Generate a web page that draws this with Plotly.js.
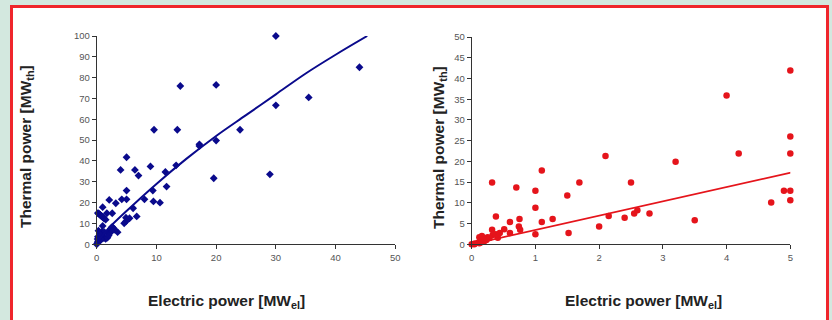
<!DOCTYPE html>
<html>
<head>
<meta charset="utf-8">
<script src="https://cdn.plot.ly/plotly-3.0.1.min.js"></script>
<style>
  html, body { margin:0; padding:0; width:832px; height:320px; overflow:hidden; background:#d3e8df; }
  #frame { position:absolute; left:10px; top:5px; width:819px; height:400px; box-sizing:border-box;
           border:3px solid #ef262c; background:#ffffff; }
  #chart { position:absolute; left:0; top:0; width:832px; height:320px; }
</style>
</head>
<body>
<div id="frame"></div>
<div id="chart"></div>
<script>
// ---- Left chart: large plants (MW_el vs MW_th) ----
const leftX = [30, 44, 14, 20, 35.5, 30, 9.6, 13.5, 24, 17.2, 17.2, 20, 5, 9, 13.3, 4, 6.4, 7, 11.5, 29, 19.6,
  11.7, 5, 9.4, 2.1, 3.2, 4.2, 5, 8, 9.5, 10.6, 6.1, 1,
  0.2, 0.3, 0.4, 0.5, 0.6, 0.7, 0.8, 0.9, 1.0, 1.2, 1.5,
  1.7, 2.6, 6.7, 4.9, 5.5, 4.9, 4.6, 1, 3.5,
  2.2, 2.4, 2.6, 2.8, 3, 2.5, 2,
  0.3, 0.9, 1.3, 0.5, 0.8, 1, 1.2, 1.5, 1.8, 2,
  0, 0.1, 0.2, 0.3, 0.4, 0.5, 0.2, 0.6, 0.7, 0.15];
const leftY = [100, 85, 76, 76.5, 70.5, 66.7, 55, 55, 55, 48, 47.2, 49.8, 41.8, 37.4, 37.9, 35.7, 35.7, 33, 34.7, 33.6, 31.7,
  27.7, 25.8, 25.8, 21.3, 19.7, 21.6, 21.6, 21.6, 20.6, 20, 17.3, 17.8,
  15, 14.8, 14.6, 14.3, 14.1, 13.8, 13.6, 13.3, 13.1, 12.5, 11.8,
  14.9, 14.9, 13.4, 12.8, 12.5, 11, 10.1, 8.8, 5.8,
  6.6, 7.6, 8.4, 7.8, 7, 6.2, 5,
  6.5, 6.2, 5.8, 5, 4, 3.4, 3, 2.6, 3.2, 4.2,
  0, 0.5, 1.2, 2, 3, 1.5, 3.6, 2.5, 4.5, 2.5];
const leftTrendX = [0, 1, 2, 5, 10, 15, 20, 25, 30, 35, 40, 45.3];
const leftTrendY = [0, 4.3, 7.7, 16, 29, 41, 52, 62, 72, 82, 91, 100];

// ---- Right chart: small plants (0-5 MW_el) ----
const rightX = [5, 4, 5, 5, 4.19, 2.1, 3.2, 1.1, 0.32, 1.69, 2.5, 0.7, 1.0, 1.5, 4.9, 5, 5, 4.7,
  1.0, 2.6, 2.55, 2.79, 2.15, 2.4, 3.5, 0.38, 0.6, 0.75, 1.1, 1.27, 2.0, 0.74, 0.76, 0.51, 0.32,
  1.52, 1.0, 0.6, 0.38, 0.41, 0.44, 0.33,
  0.12, 0.16, 0.2, 0.12, 0.04, 0, 0.25, 0.23, 0.17, 0.05, 0.1, 0.15, 0.28];
const rightY = [41.9, 35.9, 26, 21.9, 21.9, 21.3, 19.9, 17.8, 14.9, 14.9, 14.9, 13.7, 12.9, 11.8, 12.9, 12.9, 10.6, 10.1,
  8.8, 8.2, 7.4, 7.4, 6.8, 6.4, 5.8, 6.7, 5.4, 6.1, 5.4, 6.1, 4.3, 4.3, 3.5, 3.6, 3.5,
  2.7, 2.4, 2.7, 2.4, 1.6, 2.7, 2.25,
  1.7, 2.0, 0.8, 0.24, 0, 0, 1.7, 1.05, 1.2, 0.2, 0.4, 0.5, 1.5];
const rightTrendX = [0, 5.01];
const rightTrendY = [0, 17.3];

// ---- Tick values and labels ----
const leftXTicks = [0, 10, 20, 30, 40, 50];
const leftYTicks = [0, 10, 20, 30, 40, 50, 60, 70, 80, 90, 100];
const rightXTicks = [0, 1, 2, 3, 4, 5];
const rightYTicks = [0, 5, 10, 15, 20, 25, 30, 35, 40, 45, 50];
const yTitle = 'Thermal power [MW<sub>th</sub>]';
const xTitle = 'Electric power [MW<sub>el</sub>]';

const navy = '#0a0a8c';
const red = '#e5141b';
const W = 832, H = 320;

function axisStyle(extra) {
  return Object.assign({
    showgrid: false, zeroline: false, showline: true, linecolor: '#333333', linewidth: 1,
    ticks: 'outside', ticklen: 4, tickcolor: '#333333', tickwidth: 1,
    tickfont: { family: 'Liberation Sans, Arial, sans-serif', size: 9.5, color: '#555555' },
    tickmode: 'array', fixedrange: true
  }, extra);
}

const traces = [
  { x: leftX, y: leftY, type: 'scatter', mode: 'markers', xaxis: 'x', yaxis: 'y', cliponaxis: false,
    marker: { symbol: 'diamond', size: 6, color: navy }, hoverinfo: 'skip' },
  { x: leftTrendX, y: leftTrendY, type: 'scatter', mode: 'lines', xaxis: 'x', yaxis: 'y', cliponaxis: false,
    line: { color: navy, width: 2, shape: 'spline' }, hoverinfo: 'skip' },
  { x: rightX, y: rightY, type: 'scatter', mode: 'markers', xaxis: 'x2', yaxis: 'y2', cliponaxis: false,
    marker: { symbol: 'circle', size: 6.5, color: red }, hoverinfo: 'skip' },
  { x: rightTrendX, y: rightTrendY, type: 'scatter', mode: 'lines', xaxis: 'x2', yaxis: 'y2', cliponaxis: false,
    line: { color: red, width: 1.8 }, hoverinfo: 'skip' }
];

const titleFont = { family: 'Liberation Sans, Arial, sans-serif', size: 15.5, color: '#222222', weight: 'bold' };

const layout = {
  width: W, height: H,
  margin: { l: 0, r: 0, t: 0, b: 0 },
  paper_bgcolor: 'rgba(0,0,0,0)', plot_bgcolor: 'rgba(0,0,0,0)',
  showlegend: false,
  xaxis: axisStyle({ domain: [96.7 / W, 395.3 / W], range: [0, 50], tickvals: leftXTicks, anchor: 'y' }),
  yaxis: axisStyle({ domain: [(H - 244.3) / H, (H - 36) / H], range: [0, 100], tickvals: leftYTicks, anchor: 'x' }),
  xaxis2: axisStyle({ domain: [471.7 / W, 790.3 / W], range: [0, 5], tickvals: rightXTicks, anchor: 'y2' }),
  yaxis2: axisStyle({ domain: [(H - 244.3) / H, (H - 37) / H], range: [0, 50], tickvals: rightYTicks, anchor: 'x2' }),
  annotations: [
    { text: yTitle, xref: 'paper', yref: 'paper', x: 26 / W, y: (H - 147) / H, textangle: -90,
      showarrow: false, xanchor: 'center', yanchor: 'middle', font: titleFont },
    { text: xTitle, xref: 'paper', yref: 'paper', x: 227 / W, y: (H - 301.5) / H,
      showarrow: false, xanchor: 'center', yanchor: 'middle', font: titleFont },
    { text: yTitle, xref: 'paper', yref: 'paper', x: 439 / W, y: (H - 147) / H, textangle: -90,
      showarrow: false, xanchor: 'center', yanchor: 'middle', font: titleFont },
    { text: xTitle, xref: 'paper', yref: 'paper', x: 643 / W, y: (H - 301.5) / H,
      showarrow: false, xanchor: 'center', yanchor: 'middle', font: titleFont }
  ]
};

Plotly.newPlot('chart', traces, layout, { displayModeBar: false, staticPlot: true });
</script>
</body>
</html>
